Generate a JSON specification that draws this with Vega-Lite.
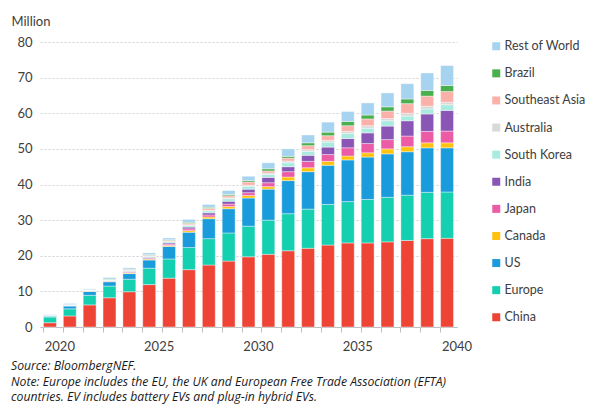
{
  "$schema": "https://vega.github.io/schema/vega-lite/v6.json",
  "autosize": {"type": "none"},
  "width": 417,
  "height": 285,
  "padding": {"left": 40, "top": 42, "right": 132, "bottom": 78},
  "config": {"font": "Lato", "view": {"stroke": null}},
  "title": {
    "text": ["Source: BloombergNEF.", "Note: Europe includes the EU, the UK and European Free Trade Association (EFTA)", "countries. EV includes battery EVs and plug-in hybrid EVs."],
    "orient": "bottom",
    "anchor": "start",
    "frame": "group",
    "dx": -29,
    "offset": 7,
    "font": "Open Sans",
    "fontSize": 12.2,
    "fontStyle": "italic",
    "fontWeight": "normal",
    "color": "#1a1a1a",
    "lineHeight": 15.6
  },
  "datasets": {
    "regions": [
      {"region": "China", "rank": 1},
      {"region": "Europe", "rank": 2},
      {"region": "US", "rank": 3},
      {"region": "Canada", "rank": 4},
      {"region": "Japan", "rank": 5},
      {"region": "India", "rank": 6},
      {"region": "South Korea", "rank": 7},
      {"region": "Australia", "rank": 8},
      {"region": "Southeast Asia", "rank": 9},
      {"region": "Brazil", "rank": 10},
      {"region": "Rest of World", "rank": 11}
    ]
  },
  "data": {
    "values": [
      {"year": "2020", "China": 1.2, "Europe": 1.6, "US": 0.3, "Canada": 0.03, "Japan": 0.03, "India": 0.01, "South Korea": 0.05, "Australia": 0.01, "Southeast Asia": 0.01, "Brazil": 0.01, "Rest of World": 0.2},
      {"year": "2021", "China": 3.1, "Europe": 2.0, "US": 0.8, "Canada": 0.08, "Japan": 0.05, "India": 0.05, "South Korea": 0.1, "Australia": 0.03, "Southeast Asia": 0.05, "Brazil": 0.04, "Rest of World": 0.3},
      {"year": "2022", "China": 6.2, "Europe": 2.7, "US": 1.1, "Canada": 0.1, "Japan": 0.08, "India": 0.06, "South Korea": 0.12, "Australia": 0.03, "Southeast Asia": 0.06, "Brazil": 0.05, "Rest of World": 0.2},
      {"year": "2023", "China": 8.2, "Europe": 3.3, "US": 1.2, "Canada": 0.15, "Japan": 0.1, "India": 0.1, "South Korea": 0.15, "Australia": 0.05, "Southeast Asia": 0.1, "Brazil": 0.1, "Rest of World": 0.45},
      {"year": "2024", "China": 9.9, "Europe": 3.5, "US": 1.6, "Canada": 0.2, "Japan": 0.2, "India": 0.2, "South Korea": 0.2, "Australia": 0.1, "Southeast Asia": 0.15, "Brazil": 0.15, "Rest of World": 0.4},
      {"year": "2025", "China": 11.9, "Europe": 4.6, "US": 2.3, "Canada": 0.25, "Japan": 0.25, "India": 0.25, "South Korea": 0.3, "Australia": 0.1, "Southeast Asia": 0.2, "Brazil": 0.15, "Rest of World": 0.5},
      {"year": "2026", "China": 13.7, "Europe": 5.4, "US": 3.5, "Canada": 0.3, "Japan": 0.35, "India": 0.35, "South Korea": 0.35, "Australia": 0.1, "Southeast Asia": 0.25, "Brazil": 0.2, "Rest of World": 0.5},
      {"year": "2027", "China": 16.1, "Europe": 6.2, "US": 4.3, "Canada": 0.45, "Japan": 0.5, "India": 0.5, "South Korea": 0.5, "Australia": 0.15, "Southeast Asia": 0.4, "Brazil": 0.3, "Rest of World": 0.8},
      {"year": "2028", "China": 17.4, "Europe": 7.4, "US": 5.6, "Canada": 0.5, "Japan": 0.55, "India": 0.6, "South Korea": 0.55, "Australia": 0.2, "Southeast Asia": 0.5, "Brazil": 0.3, "Rest of World": 0.8},
      {"year": "2029", "China": 18.5, "Europe": 7.9, "US": 6.8, "Canada": 0.6, "Japan": 0.7, "India": 0.8, "South Korea": 0.7, "Australia": 0.25, "Southeast Asia": 0.6, "Brazil": 0.35, "Rest of World": 1.1},
      {"year": "2030", "China": 19.7, "Europe": 8.6, "US": 7.9, "Canada": 0.7, "Japan": 0.8, "India": 1.0, "South Korea": 0.8, "Australia": 0.3, "Southeast Asia": 0.9, "Brazil": 0.4, "Rest of World": 1.2},
      {"year": "2031", "China": 20.4, "Europe": 9.6, "US": 8.7, "Canada": 0.7, "Japan": 1.1, "India": 1.5, "South Korea": 0.8, "Australia": 0.4, "Southeast Asia": 0.6, "Brazil": 0.6, "Rest of World": 1.7},
      {"year": "2032", "China": 21.4, "Europe": 10.4, "US": 9.3, "Canada": 1.0, "Japan": 1.5, "India": 1.4, "South Korea": 1.1, "Australia": 0.5, "Southeast Asia": 0.8, "Brazil": 0.5, "Rest of World": 2.1},
      {"year": "2033", "China": 22.1, "Europe": 11.0, "US": 10.5, "Canada": 1.1, "Japan": 1.8, "India": 1.7, "South Korea": 1.1, "Australia": 0.5, "Southeast Asia": 1.1, "Brazil": 0.8, "Rest of World": 2.2},
      {"year": "2034", "China": 23.0, "Europe": 11.4, "US": 11.0, "Canada": 1.1, "Japan": 1.9, "India": 2.1, "South Korea": 1.4, "Australia": 0.5, "Southeast Asia": 1.3, "Brazil": 1.0, "Rest of World": 2.8},
      {"year": "2035", "China": 23.6, "Europe": 11.6, "US": 11.7, "Canada": 1.1, "Japan": 2.3, "India": 2.6, "South Korea": 1.4, "Australia": 0.6, "Southeast Asia": 1.6, "Brazil": 1.2, "Rest of World": 2.8},
      {"year": "2036", "China": 23.6, "Europe": 12.2, "US": 11.9, "Canada": 1.2, "Japan": 2.6, "India": 3.0, "South Korea": 1.3, "Australia": 0.7, "Southeast Asia": 1.9, "Brazil": 1.1, "Rest of World": 3.4},
      {"year": "2037", "China": 23.9, "Europe": 12.5, "US": 12.2, "Canada": 1.4, "Japan": 2.6, "India": 3.8, "South Korea": 1.5, "Australia": 0.6, "Southeast Asia": 2.1, "Brazil": 1.2, "Rest of World": 3.9},
      {"year": "2038", "China": 24.3, "Europe": 12.7, "US": 12.2, "Canada": 1.4, "Japan": 3.0, "India": 4.3, "South Korea": 1.3, "Australia": 0.8, "Southeast Asia": 2.7, "Brazil": 1.3, "Rest of World": 4.3},
      {"year": "2039", "China": 24.8, "Europe": 13.0, "US": 12.5, "Canada": 1.4, "Japan": 3.2, "India": 4.9, "South Korea": 1.4, "Australia": 0.8, "Southeast Asia": 2.8, "Brazil": 1.6, "Rest of World": 4.9},
      {"year": "2040", "China": 24.9, "Europe": 13.0, "US": 12.4, "Canada": 1.4, "Japan": 3.3, "India": 5.8, "South Korea": 1.6, "Australia": 0.7, "Southeast Asia": 3.0, "Brazil": 1.7, "Rest of World": 5.6}
    ]
  },
  "transform": [
    {"fold": ["China", "Europe", "US", "Canada", "Japan", "India", "South Korea", "Australia", "Southeast Asia", "Brazil", "Rest of World"], "as": ["region", "value"]},
    {"lookup": "region", "from": {"data": {"name": "regions"}, "key": "region", "fields": ["rank"]}}
  ],
  "mark": {"type": "bar", "stroke": "white", "strokeWidth": 0.4},
  "encoding": {
    "x": {
      "field": "year",
      "type": "ordinal",
      "scale": {"paddingInner": 0.35, "paddingOuter": 0.175},
      "axis": {
        "title": null,
        "labelAngle": 0,
        "labelExpr": "toNumber(datum.value) % 5 === 0 ? datum.value : ''",
        "labelFontSize": 13,
        "labelColor": "#404040",
        "labelPadding": 8,
        "labelOffset": 9.93,
        "domainColor": "#bfbfbf",
        "tickColor": "#bfbfbf",
        "tickSize": 5,
        "bandPosition": 0
      }
    },
    "y": {
      "field": "value",
      "type": "quantitative",
      "stack": "zero",
      "scale": {"domain": [0, 80], "nice": false},
      "axis": {
        "title": "Million",
        "titleAngle": 0,
        "titleAlign": "left",
        "titleBaseline": "middle",
        "titleX": -29,
        "titleY": -21,
        "titleFontSize": 13,
        "titleFontWeight": "normal",
        "titleColor": "#404040",
        "values": [0, 10, 20, 30, 40, 50, 60, 70, 80],
        "labelFontSize": 13,
        "labelColor": "#404040",
        "labelPadding": 8,
        "ticks": false,
        "domain": false,
        "grid": true,
        "gridColor": "#d0d0d0",
        "gridDash": [2, 2]
      }
    },
    "color": {
      "field": "region",
      "type": "nominal",
      "scale": {
        "domain": ["Rest of World", "Brazil", "Southeast Asia", "Australia", "South Korea", "India", "Japan", "Canada", "US", "Europe", "China"],
        "range": ["#A6D3EF", "#4BAE4F", "#FBB1AA", "#D9D9D9", "#A9EBE0", "#8A56B6", "#EC5BA5", "#FFC20E", "#1A9BDB", "#14CFB0", "#EE4436"]
      },
      "legend": {
        "title": null,
        "orient": "none",
        "legendX": 450,
        "legendY": -2,
        "padding": 0,
        "symbolType": "square",
        "symbolSize": 64,
        "symbolStrokeWidth": 0,
        "labelFontSize": 12.5,
        "labelColor": "#404040",
        "labelOffset": 2,
        "rowPadding": 14.1,
        "labelLimit": 200
      }
    },
    "order": {"field": "rank", "type": "quantitative", "sort": "ascending"}
  }
}
